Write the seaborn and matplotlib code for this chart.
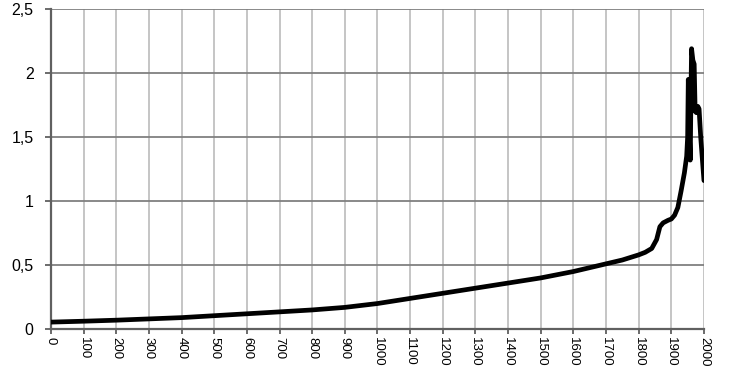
import numpy as np
import pandas as pd
import seaborn as sns
import matplotlib.pyplot as plt

# values
years = [0, 100, 200, 300, 400, 500, 600, 700, 800, 900, 1000, 1100, 1200,
         1300, 1400, 1500, 1600, 1700, 1750, 1800, 1820, 1840, 1855, 1865,
         1875, 1890, 1900, 1910, 1920, 1930, 1940, 1947, 1950, 1952, 1955,
         1958, 1960, 1962, 1966, 1970, 1973, 1977, 1981, 1985, 1990, 2000]
values = [0.055, 0.062, 0.07, 0.08, 0.09, 0.105, 0.12, 0.135, 0.15, 0.17,
          0.20, 0.24, 0.28, 0.32, 0.36, 0.40, 0.45, 0.51, 0.54, 0.58, 0.60,
          0.63, 0.70, 0.80, 0.83, 0.85, 0.86, 0.89, 0.95, 1.08, 1.22, 1.35,
          1.50, 1.95, 1.55, 1.32, 1.80, 2.19, 2.10, 2.07, 1.70, 1.69, 1.74,
          1.72, 1.50, 1.16]

y_ticks = [0, 0.5, 1, 1.5, 2, 2.5]
y_labels = ['0', '0,5', '1', '1,5', '2', '2,5']
x_ticks = list(range(0, 2001, 100))

df = pd.DataFrame({'year': years, 'value': values})

sns.set_theme(style='white')
plt.rcParams['font.family'] = ['Liberation Sans', 'DejaVu Sans']

fig = plt.figure(figsize=(7.39, 3.69), dpi=100)
ax = fig.add_axes([0.069, 0.108, 0.8836, 0.8676])

sns.lineplot(data=df, x='year', y='value', ax=ax, color='black',
             linewidth=3.4, solid_joinstyle='round', solid_capstyle='round',
             zorder=5)

ax.set_xlim(0, 2000)
ax.set_ylim(0, 2.5)
ax.set_xticks(x_ticks)
ax.set_xticklabels([str(t) for t in x_ticks], rotation=-90, fontsize=9.5,
                   color='black',
                   family=['Liberation Sans Narrow', 'Liberation Sans', 'DejaVu Sans'])
ax.set_yticks(y_ticks)
ax.set_yticklabels(y_labels, fontsize=11.5, color='black')
ax.set_xlabel('')
ax.set_ylabel('')

ax.xaxis.grid(True, color='#c0c0c0', linewidth=1.3)
ax.yaxis.grid(True, color='#808080', linewidth=1.3)
ax.set_axisbelow(True)

for side in ['top', 'right']:
    ax.spines[side].set_visible(False)
for side in ['left', 'bottom']:
    ax.spines[side].set_color('#606060')
    ax.spines[side].set_linewidth(1.6)

ax.tick_params(axis='x', which='major', direction='out', length=3.5,
               width=1.3, color='#606060', pad=2, bottom=True)
ax.tick_params(axis='y', which='major', direction='out', length=4.5,
               width=1.3, color='#606060', pad=8, left=True)

plt.savefig('out.png', dpi=100)
